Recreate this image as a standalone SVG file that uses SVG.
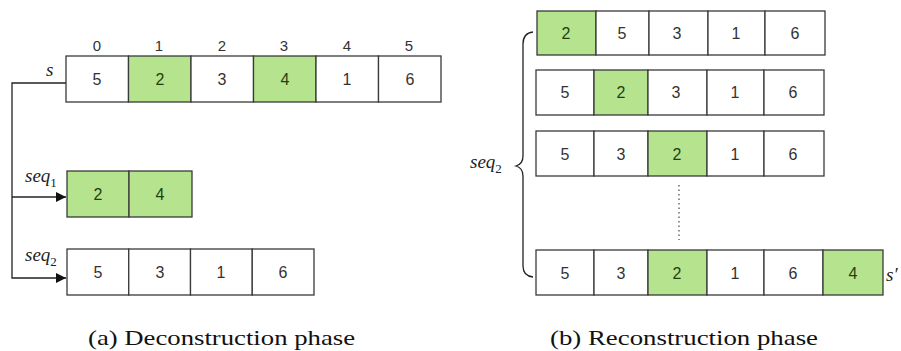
<svg xmlns="http://www.w3.org/2000/svg" width="901" height="351" viewBox="0 0 901 351">
<defs>
<style>
.c{fill:#ffffff;stroke:#3a3a3a;stroke-width:1.3}
.g{fill:#b6e38d;stroke:#3a3a3a;stroke-width:1.3}
.t{font-family:"Liberation Sans",Arial,sans-serif;font-size:16px;fill:#333;text-anchor:middle;dominant-baseline:central}
.tg{font-family:"Liberation Sans",Arial,sans-serif;font-size:16px;fill:#1f3f10;text-anchor:middle;dominant-baseline:central}
.ix{font-family:"Liberation Sans",Arial,sans-serif;font-size:15px;fill:#333;text-anchor:middle;dominant-baseline:central}
.m{font-family:"Liberation Serif","Times New Roman",serif;font-style:italic;font-size:19px;fill:#222}
.sub{font-size:13px;font-style:normal}
.cap{font-family:"Liberation Serif","Times New Roman",serif;font-size:22px;fill:#111}
.ln{fill:none;stroke:#222;stroke-width:1.3}
</style>
<marker id="ah" viewBox="0 0 10 10" refX="10" refY="5" markerWidth="10" markerHeight="10" markerUnits="userSpaceOnUse" orient="auto">
<path d="M0,0 L10,5 L0,10 z" fill="#111"/>
</marker>
</defs>
<rect width="901" height="351" fill="#ffffff"/>

<g id="connectors">
<polyline class="ln" points="66,83 12,83 12,278 66,278" marker-end="url(#ah)"/>
<polyline class="ln" points="12,197 66,197" marker-end="url(#ah)"/>
<path class="ln" d="M533,32 Q523,33 523,44 L523,156 Q523,164 516,166 Q523,168 523,176 L523,266 Q523,276 533,277"/>
<line x1="679" y1="185" x2="679" y2="240" stroke="#555" stroke-width="1.3" stroke-dasharray="1.5,3"/>
</g>

<g id="s">
<text class="ix" x="97" y="45">0</text>
<text class="ix" x="159" y="45">1</text>
<text class="ix" x="222" y="45">2</text>
<text class="ix" x="284" y="45">3</text>
<text class="ix" x="347" y="45">4</text>
<text class="ix" x="409" y="45">5</text>
<rect class="c" x="66" y="56" width="62.5" height="46"/>
<rect class="g" x="128.5" y="56" width="62.5" height="46"/>
<rect class="c" x="191" y="56" width="62.5" height="46"/>
<rect class="g" x="253.5" y="56" width="62.5" height="46"/>
<rect class="c" x="316" y="56" width="62.5" height="46"/>
<rect class="c" x="378.5" y="56" width="62.5" height="46"/>
<text class="t" x="97" y="79">5</text>
<text class="tg" x="160" y="79">2</text>
<text class="t" x="222" y="79">3</text>
<text class="tg" x="285" y="79">4</text>
<text class="t" x="347" y="79">1</text>
<text class="t" x="410" y="79">6</text>
<text class="m" x="46" y="76">s</text>
</g>

<g id="seq1">
<rect class="g" x="67" y="171" width="62" height="46"/>
<rect class="g" x="129" y="171" width="63" height="46"/>
<text class="tg" x="98" y="194">2</text>
<text class="tg" x="160" y="194">4</text>
<text class="m" x="25" y="182">seq<tspan class="sub" dy="5">1</tspan></text>
</g>

<g id="seq2">
<rect class="c" x="67" y="249" width="61.75" height="46"/>
<rect class="c" x="128.75" y="249" width="61.75" height="46"/>
<rect class="c" x="190.5" y="249" width="61.75" height="46"/>
<rect class="c" x="252.25" y="249" width="61.75" height="46"/>
<text class="t" x="98" y="272">5</text>
<text class="t" x="160" y="272">3</text>
<text class="t" x="221" y="272">1</text>
<text class="t" x="283" y="272">6</text>
<text class="m" x="25" y="261">seq<tspan class="sub" dy="5">2</tspan></text>
</g>

<g id="row1">
<rect class="g" x="537" y="11" width="59" height="44"/>
<rect class="c" x="596" y="11" width="53" height="44"/>
<rect class="c" x="649" y="11" width="59" height="44"/>
<rect class="c" x="708" y="11" width="57" height="44"/>
<rect class="c" x="765" y="11" width="60" height="44"/>
<text class="tg" x="566" y="33">2</text>
<text class="t" x="622" y="33">5</text>
<text class="t" x="677" y="33">3</text>
<text class="t" x="736" y="33">1</text>
<text class="t" x="795" y="33">6</text>
</g>

<g id="row2">
<rect class="c" x="536" y="70" width="58" height="45"/>
<rect class="g" x="594" y="70" width="54" height="45"/>
<rect class="c" x="648" y="70" width="59" height="45"/>
<rect class="c" x="707" y="70" width="57" height="45"/>
<rect class="c" x="764" y="70" width="60" height="45"/>
<text class="t" x="565" y="92">5</text>
<text class="tg" x="621" y="92">2</text>
<text class="t" x="676" y="92">3</text>
<text class="t" x="735" y="92">1</text>
<text class="t" x="793" y="92">6</text>
</g>

<g id="row3">
<rect class="c" x="536" y="131" width="58" height="45"/>
<rect class="c" x="594" y="131" width="54" height="45"/>
<rect class="g" x="648" y="131" width="59" height="45"/>
<rect class="c" x="707" y="131" width="57" height="45"/>
<rect class="c" x="764" y="131" width="60" height="45"/>
<text class="t" x="565" y="154">5</text>
<text class="t" x="621" y="154">3</text>
<text class="tg" x="677" y="154">2</text>
<text class="t" x="735" y="154">1</text>
<text class="t" x="793" y="154">6</text>
<text class="m" x="470" y="168">seq<tspan class="sub" dy="5">2</tspan></text>
</g>

<g id="row4">
<rect class="c" x="536" y="250" width="58" height="45"/>
<rect class="c" x="594" y="250" width="54" height="45"/>
<rect class="g" x="648" y="250" width="59" height="45"/>
<rect class="c" x="707" y="250" width="57" height="45"/>
<rect class="c" x="764" y="250" width="59" height="45"/>
<rect class="g" x="823" y="250" width="60" height="45"/>
<text class="t" x="565" y="273">5</text>
<text class="t" x="621" y="273">3</text>
<text class="tg" x="677" y="273">2</text>
<text class="t" x="735" y="273">1</text>
<text class="t" x="793" y="273">6</text>
<text class="tg" x="853" y="273">4</text>
<text class="m" x="886" y="281">s′</text>
</g>

<g id="captions">
<text class="cap" x="88" y="345" textLength="267" lengthAdjust="spacingAndGlyphs">(a)  Deconstruction phase</text>
<text class="cap" x="550" y="345" textLength="268" lengthAdjust="spacingAndGlyphs">(b)  Reconstruction phase</text>
</g>
</svg>
